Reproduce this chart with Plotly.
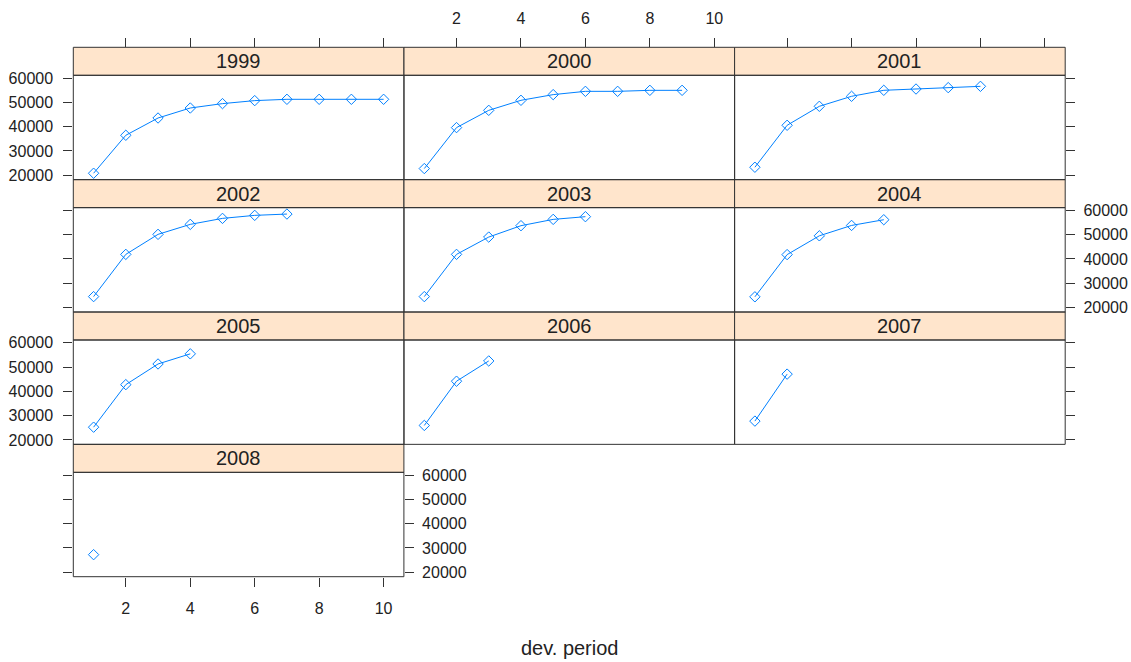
import plotly.graph_objects as go

# ---------------- data ----------------
years = ["1999", "2000", "2001", "2002", "2003", "2004", "2005", "2006", "2007", "2008"]
dev_periods = [1, 2, 3, 4, 5, 6, 7, 8, 9, 10]
cum_1999 = [20820, 36440, 43550, 47660, 49470, 50700, 51240, 51240, 51240, 51240]
cum_2000 = [22750, 39600, 46700, 50830, 53170, 54520, 54520, 54930, 54930]
cum_2001 = [23290, 40550, 48360, 52470, 54940, 55470, 56040, 56580]
cum_2002 = [24520, 41900, 50130, 54240, 56700, 57940, 58480]
cum_2003 = [24520, 41900, 49020, 53700, 56290, 57400]
cum_2004 = [24430, 41800, 49530, 53800, 56150]
cum_2005 = [25250, 42750, 51250, 55420]
cum_2006 = [25960, 44170, 52500]
cum_2007 = [27750, 47080]
cum_2008 = [27250]
series = [cum_1999, cum_2000, cum_2001, cum_2002, cum_2003,
          cum_2004, cum_2005, cum_2006, cum_2007, cum_2008]
x_ticks = [2, 4, 6, 8, 10]
x_ticktext = ["2", "4", "6", "8", "10"]
y_ticks = [20000, 30000, 40000, 50000, 60000]
y_ticktext = ["20000", "30000", "40000", "50000", "60000"]
x_label = "dev. period"

# ---------------- layout geometry (pixels) ----------------
W, H = 1131, 662
col_left = [73.3, 404.0, 734.6]
col_w = 330.6
top0 = 47.3
row_h = 132.35
strip_h = 28.0

x_range = [0.37, 10.63]
y_range = [18184, 61116]

FONT = "Liberation Sans, Arial, sans-serif"
TXT = "#222222"
LINE = "#333333"
BLUE = "#0080ff"
STRIP = "#ffe5cc"

fig = go.Figure()
layout = dict(
    width=W, height=H,
    margin=dict(l=0, r=0, t=0, b=0, autoexpand=False),
    paper_bgcolor="white", plot_bgcolor="white",
    showlegend=False,
    font=dict(family=FONT, size=16, color=TXT),
)
shapes = []
annotations = []

def px(xp):
    return xp / W

def py(yp):
    return 1 - yp / H

tickfont = dict(family=FONT, size=16, color=TXT)

for i, (yr, vals) in enumerate(zip(years, series)):
    r, c = divmod(i, 3)
    n = i + 1
    xs = "" if n == 1 else str(n)
    left = col_left[c]
    right = left + col_w
    s_top = top0 + r * row_h
    p_top = s_top + strip_h
    p_bot = s_top + row_h

    fig.add_trace(go.Scatter(
        x=dev_periods[:len(vals)], y=vals, mode="lines+markers",
        xaxis="x" + xs, yaxis="y" + xs,
        line=dict(color=BLUE, width=1),
        marker=dict(symbol="diamond-open", size=8, color=BLUE, line=dict(width=1, color=BLUE)),
        hoverinfo="x+y",
    ))

    xa = dict(domain=[px(left), px(right)], range=x_range,
              tickmode="array", tickvals=x_ticks, ticktext=x_ticktext,
              showgrid=False, zeroline=False, showline=False,
              ticklen=9, tickwidth=1, tickcolor=LINE, tickfont=tickfont,
              ticklabelstandoff=8)
    if r == 0:
        xa.update(side="top", anchor="free", position=py(top0), ticks="outside",
                  showticklabels=(c == 1))
    elif i == 9:
        xa.update(side="bottom", anchor="y" + xs, ticks="outside", showticklabels=True)
    else:
        xa.update(anchor="y" + xs, ticks="", showticklabels=False)

    ya = dict(domain=[py(p_bot), py(p_top)], range=y_range,
              tickmode="array", tickvals=y_ticks, ticktext=y_ticktext,
              showgrid=False, zeroline=False, showline=False, anchor="x" + xs,
              ticklen=9, tickwidth=1, tickcolor=LINE, tickfont=tickfont)
    if c == 0:
        ya.update(side="left", ticks="outside", showticklabels=(r in (0, 2)),
                  ticklabelstandoff=7)
    elif c == 2:
        ya.update(side="right", ticks="outside", showticklabels=(r == 1),
                  ticklabelstandoff=5)
    else:
        ya.update(ticks="", showticklabels=False)

    layout["xaxis" + xs] = xa
    layout["yaxis" + xs] = ya

    # strip
    shapes.append(dict(type="rect", xref="paper", yref="paper",
                       x0=px(left), x1=px(right), y0=py(p_top), y1=py(s_top),
                       fillcolor=STRIP, line=dict(color=LINE, width=1), layer="below"))
    # panel frame
    shapes.append(dict(type="rect", xref="paper", yref="paper",
                       x0=px(left), x1=px(right), y0=py(p_bot), y1=py(p_top),
                       fillcolor="rgba(0,0,0,0)", line=dict(color=LINE, width=1), layer="above"))
    annotations.append(dict(text=yr, xref="paper", yref="paper",
                            x=px((left + right) / 2), y=py((s_top + p_top) / 2),
                            xanchor="center", yanchor="middle", showarrow=False,
                            font=dict(family=FONT, size=20, color=TXT)))

# extra right-side axis for the 2008 panel
layout["yaxis11"] = dict(overlaying="y10", anchor="x10", side="right", range=y_range,
                         tickmode="array", tickvals=y_ticks, ticktext=y_ticktext,
                         ticks="outside", ticklen=9, tickwidth=1,
                         tickcolor=LINE, showgrid=False, zeroline=False, showline=False,
                         tickfont=tickfont, ticklabelstandoff=5)
fig.add_trace(go.Scatter(x=[None], y=[None], xaxis="x10", yaxis="y11",
                         mode="markers", hoverinfo="skip"))

annotations.append(dict(text=x_label, xref="paper", yref="paper",
                        x=px((col_left[0] + col_left[2] + col_w) / 2), y=py(648),
                        xanchor="center", yanchor="middle", showarrow=False,
                        font=dict(family=FONT, size=20, color=TXT)))

layout["shapes"] = shapes
layout["annotations"] = annotations
fig.update_layout(**layout)
fig.write_html("out.html", config={"displayModeBar": False},
               post_script="document.body.style.margin='0';document.body.style.overflow='hidden';")
